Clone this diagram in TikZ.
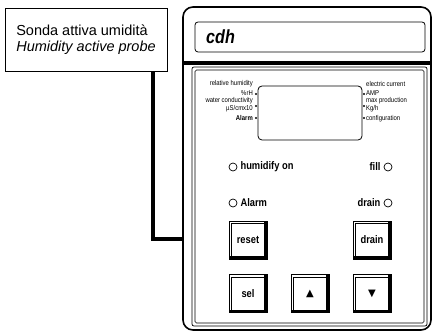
\documentclass[tikz,border=0pt]{standalone}
\usepackage{fontspec}
\setmainfont{Liberation Sans}
\newfontfamily\narrowfont{Liberation Sans}[FakeStretch=0.85]
\newfontfamily\symfont{DejaVu Sans}
\usetikzlibrary{positioning}

\tikzset{
  lcdlabel/.style={font=\narrowfont\fontsize{7}{8}\selectfont, inner sep=0pt},
  ledlabel/.style={font=\narrowfont\bfseries\fontsize{11}{12}\selectfont, inner sep=0pt},
  led/.style={draw, circle, minimum size=8pt, inner sep=0pt, line width=0.7pt},
  lcddot/.style={fill, circle, minimum size=2.2pt, inner sep=0pt},
  keybox/.style={draw, line width=0.7pt, minimum size=38pt, inner sep=0pt,
    font=\narrowfont\bfseries\fontsize{11}{12}\selectfont,
    path picture={
      \draw[line width=0.6pt] ([shift={(2.5pt,-2.5pt)}]path picture bounding box.north west)
        rectangle ([shift={(-2.5pt,2.5pt)}]path picture bounding box.south east);
      \draw[line width=2.6pt] ([xshift=-1.3pt]path picture bounding box.north east)
        -- ([shift={(-1.3pt,1.3pt)}]path picture bounding box.south east)
        -- ([yshift=1.3pt]path picture bounding box.south west);
    }},
}

\begin{document}
\begin{tikzpicture}[x=1pt, y=-1pt]
  \useasboundingbox (0,0) rectangle (432,334);

  % probe label
  \node[draw, line width=0.7pt, minimum width=162pt, minimum height=63pt,
        align=left, inner sep=0pt,
        font=\fontsize{14.5}{16.5}\selectfont] (probe) at (86,39.5)
        {Sonda attiva umidità\\\textit{Humidity active probe}};

  % controller housing
  \draw[line width=1.6pt, rounded corners=10pt] (183,7) rectangle (431,330);
  \draw[line width=0.8pt, rounded corners=3pt] (195,22) rectangle (425,52);
  \node[anchor=west, inner sep=0pt, font=\narrowfont\bfseries\itshape\fontsize{19}{20}\selectfont]
        (brand) at (206,37) {cdh};
  \draw[line width=4pt] (183,63) -- (431,63);
  \draw[line width=0.7pt, rounded corners=2pt] (192,67) rectangle (427,326);
  \draw[line width=0.7pt, rounded corners=1.5pt] (195,70) rectangle (424,323);

  % display
  \draw[line width=0.8pt, rounded corners=4pt] (258,86) rectangle (362,140);
  \node[lcddot] at (256,94) {};
  \node[lcddot] at (256,106) {};
  \node[lcddot] at (256,118) {};
  \node[lcddot] at (364,94) {};
  \node[lcddot] at (364,106) {};
  \node[lcddot] at (364,118) {};

  \node[lcdlabel, anchor=east] at (253,84) {relative humidity};
  \node[lcdlabel, anchor=east] at (253,93) {\%rH};
  \node[lcdlabel, anchor=east] at (253,101) {water conductivity};
  \node[lcdlabel, anchor=east] at (253,109) {µS/cmx10};
  \node[lcdlabel, anchor=east, font=\narrowfont\bfseries\fontsize{7}{8}\selectfont] at (253,118) {Alarm};
  \node[lcdlabel, anchor=west] at (366,84) {electric current};
  \node[lcdlabel, anchor=west] at (366,93) {AMP};
  \node[lcdlabel, anchor=west] at (366,101) {max production};
  \node[lcdlabel, anchor=west] at (366,109) {Kg/h};
  \node[lcdlabel, anchor=west] at (366,119) {configuration};

  % leds
  \node[led] (ledhum) at (233,167) {};
  \node[ledlabel, right=3pt of ledhum] {humidify on};
  \node[led] (ledfill) at (388,167) {};
  \node[ledlabel, left=3pt of ledfill] {fill};
  \node[led] (ledalarm) at (233,203) {};
  \node[ledlabel, right=3pt of ledalarm] {Alarm};
  \node[led] (leddrain) at (388,203) {};
  \node[ledlabel, left=3pt of leddrain] {drain};

  % keys
  \node[keybox] (reset) at (248,240) {reset};
  \node[keybox] (drain) at (372,240) {drain};
  \node[keybox] (sel) at (248,293.5) {sel};
  \node[keybox, font=\symfont\fontsize{10}{10}\selectfont] (up) at (310,293.5) {▲};
  \node[keybox, font=\symfont\fontsize{10}{10}\selectfont] (down) at (372,293.5) {▼};

  % probe cable
  \coordinate (jack) at (183,239);
  \draw[line width=4pt] ([xshift=-14pt]probe.south east) |- (jack);
\end{tikzpicture}
\end{document}
